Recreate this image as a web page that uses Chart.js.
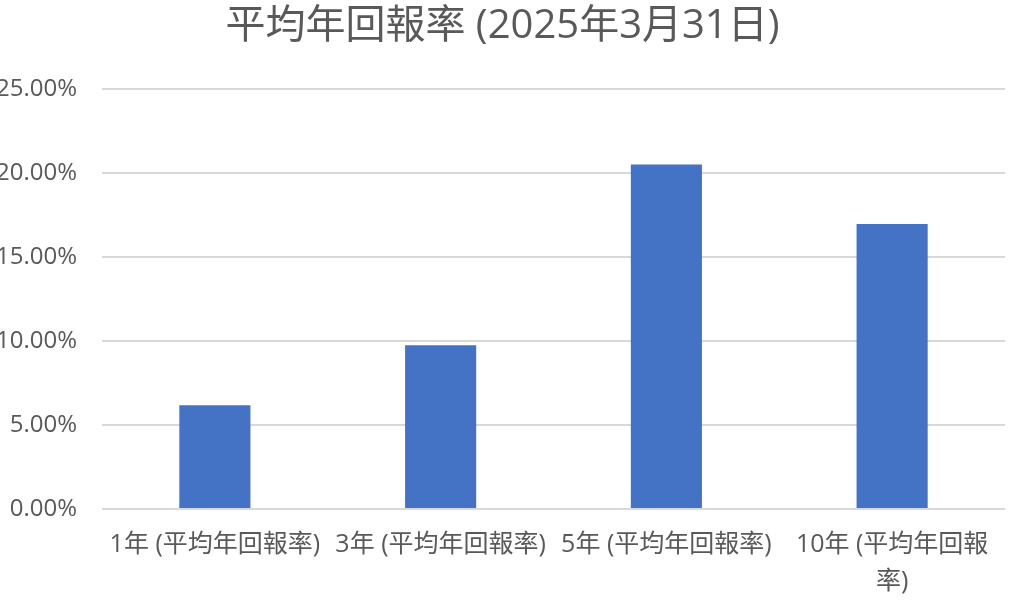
<!DOCTYPE html>
<html>
<head>
<meta charset="utf-8">
<script src="https://cdn.jsdelivr.net/npm/chart.js@4/dist/chart.umd.min.js"></script>
<style>
  html, body { margin: 0; padding: 0; background: #fff; }
  #wrap { width: 1024px; height: 602px; position: relative; }
</style>
</head>
<body>
<div id="wrap"><canvas id="chart"></canvas></div>
<script>
// ---- Data ----
const categories = [
  '1年 (平均年回報率)',
  '3年 (平均年回報率)',
  '5年 (平均年回報率)',
  ['10年 (平均年回報', '率)']
];
const returns = [6.17, 9.75, 20.5, 16.97];
const yTicks = [0, 5, 10, 15, 20, 25];
const chartTitle = '平均年回報率 (2025年3月31日)';

const FONT = "'Open Sans', 'Noto Sans CJK TC', sans-serif";
const INK = '#595959';
const GRID = '#D9D9D9';

Chart.defaults.font.family = FONT;
Chart.defaults.color = INK;

new Chart(document.getElementById('chart'), {
  type: 'bar',
  data: {
    labels: categories,
    datasets: [{
      label: '平均年回報率',
      data: returns,
      backgroundColor: '#4472C4',
      categoryPercentage: 1,
      barPercentage: 0.315
    }]
  },
  options: {
    responsive: true,
    maintainAspectRatio: false,
    animation: false,
    layout: { padding: { left: 0, right: 19, top: 3, bottom: 0 } },
    plugins: {
      legend: { display: false },
      tooltip: { enabled: false },
      title: {
        display: true,
        text: chartTitle,
        color: INK,
        font: { size: 40, weight: 'normal' },
        padding: { top: 0, bottom: 38 }
      }
    },
    scales: {
      x: {
        border: { display: false },
        grid: { display: false, drawTicks: false },
        ticks: {
          autoSkip: false,
          maxRotation: 0,
          minRotation: 0,
          padding: 18,
          font: { size: 25, lineHeight: 1.45 },
          color: INK
        },
        afterFit: s => { s.height = 93; }
      },
      y: {
        min: 0,
        max: 25,
        border: { display: false },
        grid: { color: GRID, lineWidth: 2, drawTicks: false },
        afterBuildTicks: s => { s.ticks = yTicks.map(v => ({ value: v })); },
        ticks: {
          padding: 25,
          font: { size: 24 },
          color: INK,
          callback: v => v.toFixed(2) + '%'
        },
        afterFit: s => { s.width = 102; }
      }
    }
  }
});
</script>
</body>
</html>
